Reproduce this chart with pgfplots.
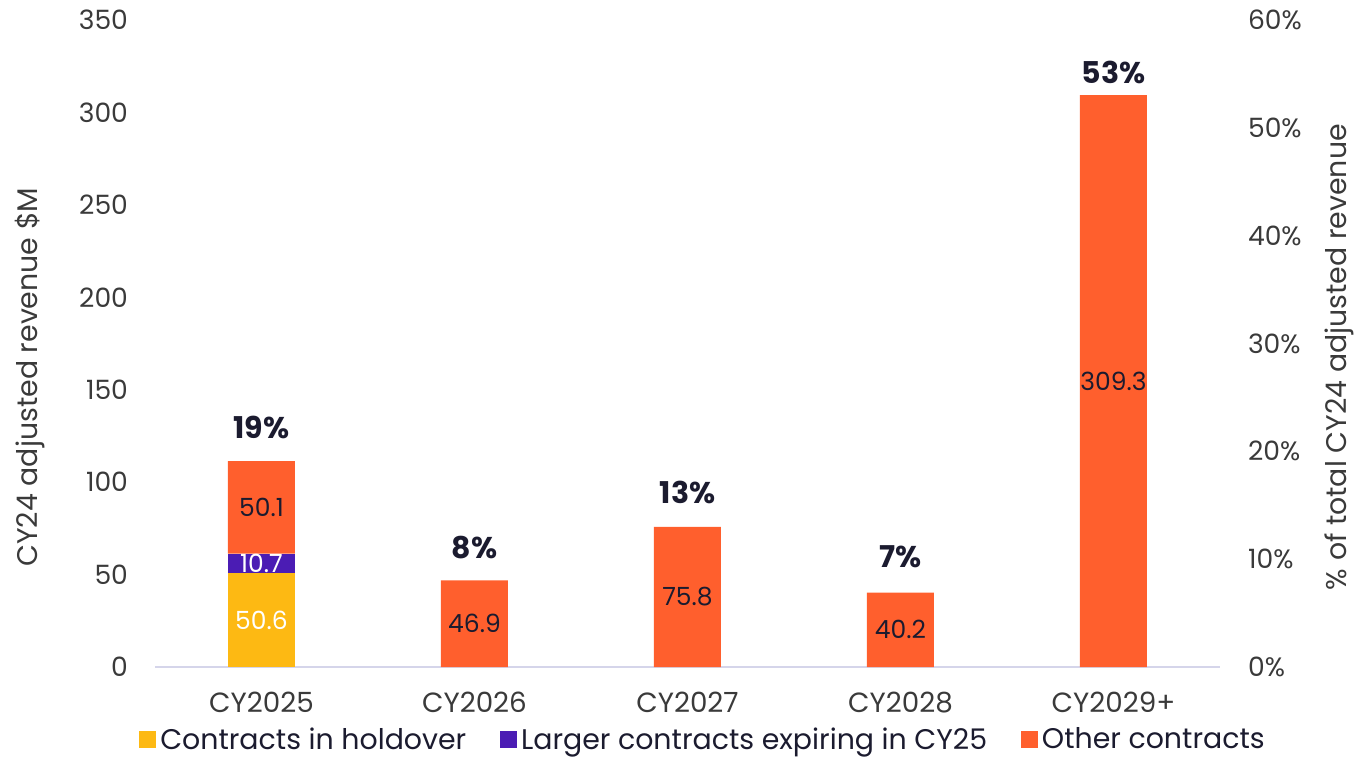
\documentclass[border=0pt]{standalone}
\usepackage{fontspec}
\setmainfont{Poppins}
\usepackage{pgfplots}
\pgfplotsset{compat=1.18}
\definecolor{cyel}{HTML}{FDB913}
\definecolor{cpur}{HTML}{4B1CB4}
\definecolor{corg}{HTML}{FF5F2D}
\definecolor{cbase}{HTML}{D5D5EA}
\definecolor{ctext}{HTML}{3A3A3A}
\definecolor{cdark}{HTML}{1B1B2F}
\newcommand{\fs}{\fontsize{12.5}{15}\selectfont}
\newcommand{\fx}{\fontsize{13.9}{16}\selectfont}
\newcommand{\fy}{\fontsize{13.3}{16}\selectfont}
\newcommand{\fl}{\fontsize{14.2}{17}\selectfont}
\newcommand{\fp}{\fontsize{15}{18}\selectfont}
\pgfplotsset{
  base/.style={
    width=532.5pt, height=323.5pt, scale only axis,
    xmin=-0.5, xmax=4.5, at={(0,0)}, anchor=south west,
    /pgf/number format/assume math mode=true,
    tick style={draw=none},
    axis line style={draw=none},
    ticklabel style={font=\fy, text=ctext},
  },
  lbl/.style={only marks, mark=*, mark size=0pt, mark options={draw=none,fill=none},
    nodes near coords, point meta=explicit symbolic,
    every node near coord/.style={anchor=center, font=\fs, text=#1}},
}
\begin{document}
\begin{tikzpicture}
\begin{axis}[base,
  ybar stacked, bar width=33.5pt,
  ymin=0, ymax=350, ytick={0,50,...,350},
  xtick={0,1,2,3,4},
  xticklabels={CY2025,CY2026,CY2027,CY2028,CY2029+},
  xticklabel style={yshift=-9pt, font=\fx},
  yticklabel style={xshift=-10pt},
  ylabel={CY24 adjusted revenue \$M},
  ylabel style={at={(axis description cs:-0.1174,0.448)}, anchor=center, font=\fl, text=ctext},
  legend style={at={(0.5156,-0.1125)}, anchor=center, legend columns=3, draw=none, fill=none,
    font=\fl, text=cdark, inner sep=0pt, outer sep=0pt,
    nodes={inner ysep=0.5pt, inner xsep=2pt},
    /tikz/every even column/.append style={column sep=15pt}},
  legend image code/.code={\fill[#1] (0pt,-4.2pt) rectangle (8.4pt,4.2pt);},
]
\addplot[fill=cyel, draw=none] coordinates {(0,50.6) (1,0) (2,0) (3,0) (4,0)};
\addplot[fill=cpur, draw=none] coordinates {(0,10.7) (1,0) (2,0) (3,0) (4,0)};
\addplot[fill=corg, draw=none] coordinates {(0,50.1) (1,46.9) (2,75.8) (3,40.2) (4,309.3)};
\legend{Contracts in holdover, Larger contracts expiring in CY25, Other contracts}
\draw[cbase, line width=1.2pt] (rel axis cs:0,0) -- (rel axis cs:1,0);
\end{axis}
\begin{axis}[base, hide axis, ymin=0, ymax=350]
\addplot[lbl=white] coordinates {(0,25.3)[50.6] (0,55.95)[10.7]};
\addplot[lbl=cdark] coordinates {(0,86.35)[50.1] (1,23.45)[46.9] (2,37.9)[75.8] (3,20.1)[40.2] (4,154.65)[309.3]};
\addplot[only marks, mark=*, mark size=0pt, mark options={draw=none,fill=none},
  nodes near coords, point meta=explicit symbolic,
  every node near coord/.style={anchor=center, font=\fp\bfseries, text=cdark}]
  coordinates {(0,129.8)[19\%] (1,64.4)[8\%] (2,94.6)[13\%] (3,59.5)[7\%] (4,321.8)[53\%]};
\end{axis}
\begin{axis}[base, ymin=0, ymax=60, ytick={0,10,...,60},
  axis x line=none, axis y line*=right,
  yticklabel={\pgfmathprintnumber{\tick}\%},
  yticklabel style={xshift=10.5pt},
  ylabel={\% of total CY24 adjusted revenue},
  ylabel style={at={(axis description cs:1.1125,0.479)}, anchor=center, rotate=0, font=\fl, text=ctext},
]
\addplot[draw=none] coordinates {(0,0)};
\end{axis}
\pgfresetboundingbox
\path (-77.5pt,-47pt) rectangle (601pt,333.5pt);
\end{tikzpicture}
\end{document}
